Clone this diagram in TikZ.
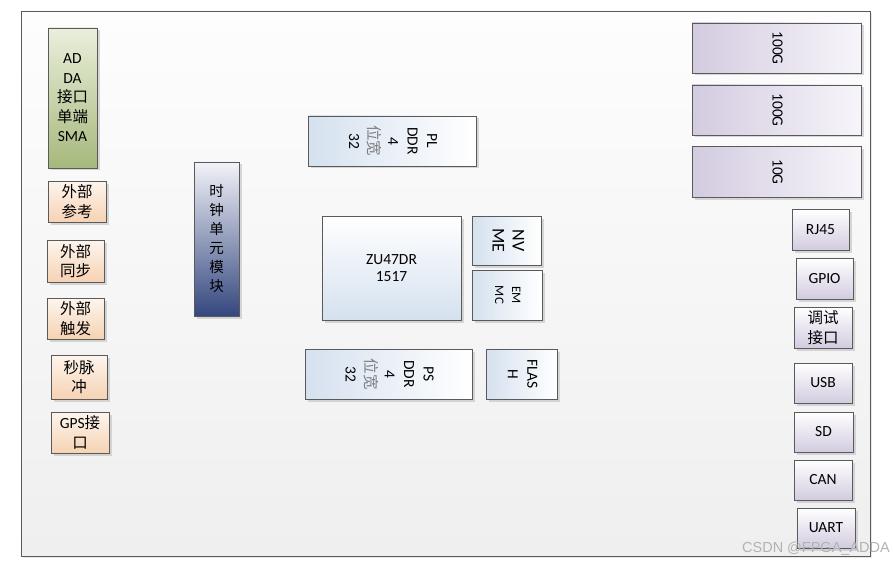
\documentclass[tikz,border=0pt]{standalone}
\usepackage{fontspec}
\setmainfont{Carlito}
\newfontfamily\cjk{Noto Sans CJK SC}
\newfontfamily\marksans{Liberation Sans}
\usepackage{graphicx}
\usetikzlibrary{shadows}
\definecolor{BoardLine}{HTML}{5A5A5A}
\definecolor{BoardTop}{HTML}{FDFDFD}
\definecolor{BoardBottom}{HTML}{EFEFEF}
\definecolor{AnalogTop}{HTML}{EAEFDC}
\definecolor{AnalogBottom}{HTML}{A6B87C}
\definecolor{ClockTop}{HTML}{FDF5EE}
\definecolor{ClockBottom}{HTML}{F6D2B3}
\definecolor{UnitTop}{HTML}{F2F3F9}
\definecolor{UnitBottom}{HTML}{34477E}
\definecolor{MemBlue}{HTML}{D5E1EF}
\definecolor{PortPurple}{HTML}{D3CBE0}
\definecolor{PortLight}{HTML}{F7F5FA}
\newcommand\boxfont{\fontsize{15.5}{19.5}\selectfont}
\newcommand\sidetext[1]{\rotatebox[origin=c]{-90}{\begin{tabular}{@{}c@{}}#1\end{tabular}}}

\begin{document}
\begin{tikzpicture}[
  x=1pt,y=-1pt,
  box/.style={draw=BoardLine,line width=0.8pt,inner sep=0pt,align=center,font=\boxfont,
              drop shadow={shadow xshift=2.5pt,shadow yshift=-2.5pt,fill=black!25,opacity=0.6}},
  analog/.style={box,top color=AnalogTop,bottom color=AnalogBottom},
  clockin/.style={box,top color=ClockTop,bottom color=ClockBottom},
  unit/.style={box,top color=UnitTop,bottom color=UnitBottom},
  chip/.style={box,top color=white,bottom color=MemBlue},
  mem/.style={box,left color=MemBlue,right color=white},
  serdes/.style={box,left color=PortPurple,right color=PortLight},
  port/.style={box,top color=white,bottom color=PortPurple}
]
  \useasboundingbox (0,0) rectangle (893,564);
  \draw[draw=BoardLine,line width=0.8pt,top color=BoardTop,bottom color=BoardBottom,
        drop shadow={shadow xshift=2pt,shadow yshift=-2pt,fill=black!15,opacity=0.6}]
    (21,11) rectangle (870,556);

  % left column
  \node[analog,minimum width=49,minimum height=140] (adda) at (72.5,98)
    {AD\\DA\\{\cjk 接口}\\{\cjk 单端}\\SMA};
  \node[clockin,minimum width=58,minimum height=41] (extref) at (77,201.5) {\cjk 外部\\\cjk 参考};
  \node[clockin,minimum width=57,minimum height=42] (extsync) at (75.5,261) {\cjk 外部\\\cjk 同步};
  \node[clockin,minimum width=57,minimum height=41] (exttrig) at (75.5,318.5) {\cjk 外部\\\cjk 触发};
  \node[clockin,minimum width=56,minimum height=44] (pps) at (79,377) {\cjk 秒脉\\\cjk 冲};
  \node[clockin,minimum width=58,minimum height=41] (gps) at (80,432.5) {GPS{\cjk 接}\\\cjk 口};
  \node[unit,minimum width=45,minimum height=154,font=\fontsize{14.5}{19}\selectfont] (clk) at (216.5,239)
    {\cjk 时\\\cjk 钟\\\cjk 单\\\cjk 元\\\cjk 模\\\cjk 块};

  % centre
  \node[mem,minimum width=168,minimum height=50] (plddr) at (392,141)
    {\sidetext{PL\\DDR\\4\\{\cjk\color{gray}位宽}\\32}};
  \node[chip,minimum width=139,minimum height=104,font=\fontsize{15.5}{17.5}\selectfont] (zu) at (391.5,268)
    {ZU47DR\\1517};
  \node[mem,minimum width=69,minimum height=49,font=\fontsize{18}{20}\selectfont] (nvme) at (506.5,240.5)
    {\sidetext{NV\\ME}};
  \node[mem,minimum width=70,minimum height=50,font=\fontsize{13}{17}\selectfont] (emmc) at (507,295)
    {\sidetext{EM\\MC}};
  \node[mem,minimum width=167,minimum height=50] (psddr) at (388.5,374)
    {\sidetext{PS\\DDR\\4\\{\cjk\color{gray}位宽}\\32}};
  \node[mem,minimum width=71,minimum height=50] (flash) at (521.5,374)
    {\sidetext{FLAS\\H}};

  % right column
  \node[serdes,minimum width=169,minimum height=50] (qsfpa) at (776.5,48) {\sidetext{100G}};
  \node[serdes,minimum width=169,minimum height=50] (qsfpb) at (776.5,110) {\sidetext{100G}};
  \node[serdes,minimum width=169,minimum height=51] (sfp) at (776.5,172) {\sidetext{10G}};
  \node[port,minimum width=57,minimum height=41] (rj45) at (820.5,229.5) {RJ45};
  \node[port,minimum width=57,minimum height=41] (gpio) at (824.5,278.5) {GPIO};
  \node[port,minimum width=58,minimum height=41] (debug) at (823,327.5) {\cjk 调试\\\cjk 接口};
  \node[port,minimum width=58,minimum height=40] (usb) at (823,383) {USB};
  \node[port,minimum width=59,minimum height=40] (sd) at (823.5,432) {SD};
  \node[port,minimum width=58,minimum height=40] (can) at (823,480) {CAN};
  \node[port,minimum width=58,minimum height=40] (uart) at (826,528) {UART};

  \node[anchor=east,inner sep=0pt,text=black!30,font=\marksans\fontsize{14.5}{14.5}\selectfont]
    (mark) at (890,549) {CSDN @FPGA\_ADDA};
\end{tikzpicture}
\end{document}
